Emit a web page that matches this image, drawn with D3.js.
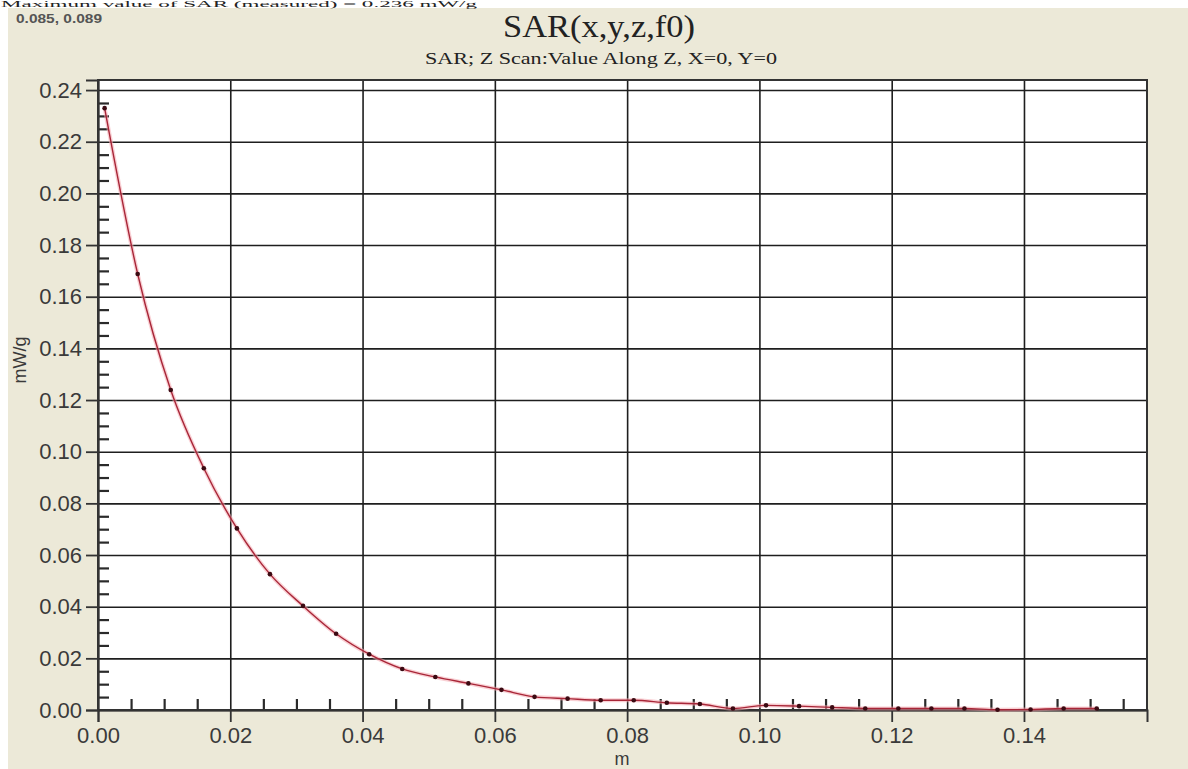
<!DOCTYPE html>
<html>
<head>
<meta charset="utf-8">
<script src="https://cdn.jsdelivr.net/npm/d3@7"></script>
<style>
  html, body { margin: 0; padding: 0; background: #ffffff; }
  svg { display: block; }
</style>
</head>
<body>
<svg id="chart" width="1188" height="769"></svg>
<script>
// ---- data ----
const positions = [0.001, 0.006, 0.011, 0.016, 0.021, 0.026, 0.031, 0.036, 0.041, 0.046,
                   0.051, 0.056, 0.061, 0.066, 0.071, 0.076, 0.081, 0.086, 0.091, 0.096,
                   0.101, 0.106, 0.111, 0.116, 0.121, 0.126, 0.131, 0.136, 0.141, 0.146, 0.151];
const sarValues = [0.2330, 0.1688, 0.1239, 0.0936, 0.0703, 0.0526, 0.0403, 0.0295, 0.0216, 0.0159,
                   0.0128, 0.0103, 0.0078, 0.0051, 0.0044, 0.0038, 0.0038, 0.0028, 0.0023, 0.0006,
                   0.0018, 0.0015, 0.0010, 0.0006, 0.0006, 0.0006, 0.0006, 0.0001, 0.0002, 0.0006, 0.0006];
const xMajorTicks = [0.00, 0.02, 0.04, 0.06, 0.08, 0.10, 0.12, 0.14];
const xMinorTicks = [0.005, 0.010, 0.015, 0.025, 0.030, 0.035, 0.045, 0.050, 0.055, 0.065, 0.070, 0.075,
                     0.085, 0.090, 0.095, 0.105, 0.110, 0.115, 0.125, 0.130, 0.135, 0.145, 0.150, 0.155];
const yMajorTicks = [0.00, 0.02, 0.04, 0.06, 0.08, 0.10, 0.12, 0.14, 0.16, 0.18, 0.20, 0.22, 0.24];
const yMinorTicks = [0.005, 0.010, 0.015, 0.025, 0.030, 0.035, 0.045, 0.050, 0.055, 0.065, 0.070, 0.075,
                     0.085, 0.090, 0.095, 0.105, 0.110, 0.115, 0.125, 0.130, 0.135, 0.145, 0.150, 0.155,
                     0.165, 0.170, 0.175, 0.185, 0.190, 0.195, 0.205, 0.210, 0.215, 0.225, 0.230, 0.235];
const xDomain = [0, 0.1586];
const yDomain = [0, 0.2439];
const titleText = "SAR(x,y,z,f0)";
const subtitleText = "SAR; Z Scan:Value Along Z, X=0, Y=0";
const cursorText = "0.085, 0.089";
const topCutText = "Maximum value of SAR (measured) = 0.236 mW/g";
const xLabel = "m";
const yLabel = "mW/g";

// ---- layout ----
const svg = d3.select("#chart");
const L = 98, R = 1147, T = 80, B = 710;
const x = d3.scaleLinear().domain(xDomain).range([L, R]);
const y = d3.scaleLinear().domain(yDomain).range([B, T]);

// background panel
svg.append("rect").attr("x", 0).attr("y", 0).attr("width", 1188).attr("height", 769).attr("fill", "#ffffff");
svg.append("rect").attr("x", 8).attr("y", 8).attr("width", 1180).attr("height", 761).attr("fill", "#ECE9D8");

// small text in the white strip at the very top
svg.append("text").attr("x", 1).attr("y", 7)
  .attr("font-family", "'Liberation Serif', 'Times New Roman', serif")
  .attr("font-size", 9).attr("fill", "#222")
  .attr("textLength", 476).attr("lengthAdjust", "spacingAndGlyphs")
  .text(topCutText);

// cursor readout
svg.append("text").attr("x", 16).attr("y", 23)
  .attr("font-family", "'Liberation Sans', Arial, sans-serif")
  .attr("font-size", 13).attr("font-weight", "bold").attr("fill", "#555")
  .attr("textLength", 86).attr("lengthAdjust", "spacingAndGlyphs")
  .text(cursorText);

// titles
svg.append("text").attr("x", 599).attr("y", 37).attr("text-anchor", "middle")
  .attr("font-family", "'Liberation Serif', 'Times New Roman', serif")
  .attr("font-size", 31).attr("fill", "#222")
  .attr("textLength", 192).attr("lengthAdjust", "spacingAndGlyphs")
  .text(titleText);
svg.append("text").attr("x", 601).attr("y", 64).attr("text-anchor", "middle")
  .attr("font-family", "'Liberation Serif', 'Times New Roman', serif")
  .attr("font-size", 17).attr("fill", "#222")
  .attr("textLength", 352).attr("lengthAdjust", "spacingAndGlyphs")
  .text(subtitleText);

// plot area
svg.append("rect").attr("x", L).attr("y", T).attr("width", R - L).attr("height", B - T).attr("fill", "#ffffff");

// grid lines
const gridColor = "#1e1e1e";
svg.append("g").attr("transform", `translate(${L},0)`)
  .call(d3.axisRight(y).tickValues(yMajorTicks).tickSize(R - L).tickFormat(""))
  .call(g => g.select(".domain").remove())
  .call(g => g.selectAll("line").attr("stroke", gridColor).attr("stroke-width", 1.6));
svg.append("g").attr("transform", `translate(0,${T})`)
  .call(d3.axisBottom(x).tickValues(xMajorTicks).tickSize(B - T).tickFormat(""))
  .call(g => g.select(".domain").remove())
  .call(g => g.selectAll("line").attr("stroke", gridColor).attr("stroke-width", 1.6));

// minor ticks
svg.append("g").attr("transform", `translate(${L},0)`)
  .call(d3.axisRight(y).tickValues(yMinorTicks).tickSize(11).tickFormat(""))
  .call(g => g.select(".domain").remove())
  .call(g => g.selectAll("line").attr("stroke", "#2a2a2a").attr("stroke-width", 2.2));
svg.append("g").attr("transform", `translate(0,${B})`)
  .call(d3.axisTop(x).tickValues(xMinorTicks).tickSize(11).tickFormat(""))
  .call(g => g.select(".domain").remove())
  .call(g => g.selectAll("line").attr("stroke", "#2a2a2a").attr("stroke-width", 2.2));

// frame
svg.append("rect").attr("x", L).attr("y", T).attr("width", R - L).attr("height", B - T)
  .attr("fill", "none").attr("stroke", "#333").attr("stroke-width", 2);

// major axes with labels
const labelFont = "'Liberation Sans', Arial, sans-serif";
svg.append("g").attr("transform", `translate(${L},0)`)
  .call(d3.axisLeft(y).tickValues(yMajorTicks).tickSize(12).tickPadding(4).tickFormat(d3.format(".2f")))
  .call(g => g.select(".domain").attr("stroke", "#333").attr("stroke-width", 2))
  .call(g => g.selectAll("line").attr("stroke", "#333").attr("stroke-width", 1.8))
  .call(g => g.selectAll("text").attr("font-family", labelFont).attr("font-size", 22).attr("fill", "#3a3a3a"));
svg.append("g").attr("transform", `translate(0,${B})`)
  .call(d3.axisBottom(x).tickValues(xMajorTicks).tickSize(12).tickPadding(5).tickFormat(d3.format(".2f")))
  .call(g => g.select(".domain").attr("stroke", "#333").attr("stroke-width", 2))
  .call(g => g.selectAll("line").attr("stroke", "#333").attr("stroke-width", 1.8))
  .call(g => g.selectAll("text").attr("font-family", labelFont).attr("font-size", 22).attr("fill", "#3a3a3a"));

// axis titles
svg.append("text").attr("x", 622).attr("y", 765).attr("text-anchor", "middle")
  .attr("font-family", labelFont).attr("font-size", 18).attr("fill", "#3a3a3a").text(xLabel);
svg.append("text").attr("transform", "translate(26,360) rotate(-90)").attr("text-anchor", "middle")
  .attr("font-family", labelFont).attr("font-size", 18).attr("fill", "#3a3a3a").text(yLabel);

// data line
const pts = positions.map((p, i) => [p, sarValues[i]]);
const line = d3.line().x(d => x(d[0])).y(d => y(d[1])).curve(d3.curveMonotoneX);
svg.append("path").datum(pts).attr("d", line)
  .attr("fill", "none").attr("stroke", "#f4a9b0").attr("stroke-width", 4).attr("stroke-opacity", 0.55);
svg.append("path").datum(pts).attr("d", line)
  .attr("fill", "none").attr("stroke", "#a82638").attr("stroke-width", 1.4);
svg.append("g").selectAll("circle").data(pts).join("circle")
  .attr("cx", d => x(d[0])).attr("cy", d => y(d[1])).attr("r", 2.3).attr("fill", "#3b0a12");
</script>
</body>
</html>
